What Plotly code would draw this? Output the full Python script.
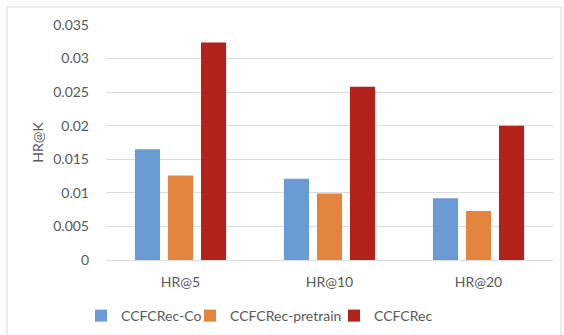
import plotly.graph_objects as go

# Hit-rate comparison of the three model variants
categories = ["HR@5", "HR@10", "HR@20"]
series_names = ["CCFCRec-Co", "CCFCRec-pretrain", "CCFCRec"]
hr_co = [0.0165, 0.0121, 0.0092]
hr_pretrain = [0.0126, 0.0099, 0.0073]
hr_full = [0.0324, 0.0258, 0.0200]
y_ticks = [0, 0.005, 0.01, 0.015, 0.02, 0.025, 0.03, 0.035]
y_tick_labels = ["0", "0.005", "0.01", "0.015", "0.02", "0.025", "0.03", "0.035"]

colors = ["#6a9bd4", "#e3843f", "#b3221a"]
font_family = "Lato, 'Open Sans', sans-serif"
text_color = "#595959"
grid_color = "#dcdcdc"

W, H = 564, 335
ml, mr, mt, mb = 106, 11, 25, 75
pw, ph = W - ml - mr, H - mt - mb

def px_x(x):
    return (x - ml) / pw

def px_y(y):
    return (H - mb - y) / ph

# one legend box per series so each entry sits at its own spot
legend_ids = ["legend", "legend2", "legend3"]
legend_text_x = [123, 232, 376]

fig = go.Figure()
for name, vals, col, lid in zip(series_names, [hr_co, hr_pretrain, hr_full], colors, legend_ids):
    fig.add_trace(go.Bar(x=categories, y=vals, name=name, legend=lid,
                         marker=dict(color=col, line=dict(width=0))))

legend_style = dict(orientation="h", xanchor="left", yanchor="top", y=px_y(300),
                    font=dict(size=14, color=text_color), bgcolor="rgba(0,0,0,0)",
                    itemwidth=30)
legends = {lid: dict(legend_style, x=px_x(tx - 42)) for lid, tx in zip(legend_ids, legend_text_x)}

border = dict(type="line", xref="paper", yref="paper", line=dict(color="#d9d9d9", width=1))
shapes = [
    dict(border, x0=px_x(7), x1=px_x(7), y0=px_y(7), y1=px_y(340)),
    dict(border, x0=px_x(7), x1=px_x(561), y0=px_y(7), y1=px_y(7)),
    dict(border, x0=px_x(561), x1=px_x(561), y0=px_y(7), y1=px_y(340)),
]

fig.update_layout(
    width=W, height=H,
    margin=dict(l=ml, r=mr, t=mt, b=mb, autoexpand=False),
    paper_bgcolor="white", plot_bgcolor="white",
    barmode="group", bargap=0.335, bargroupgap=0.24,
    font=dict(family=font_family, size=14, color=text_color),
    showlegend=True,
    shapes=shapes,
    **legends,
)
fig.update_xaxes(showline=False, showgrid=False, zeroline=False, ticks="",
                 ticklabelstandoff=12, tickfont=dict(size=14, color=text_color))
fig.update_yaxes(range=[0, 0.035], tickvals=y_ticks, ticktext=y_tick_labels,
                 showgrid=True, gridcolor=grid_color, gridwidth=1,
                 zeroline=True, zerolinecolor=grid_color, zerolinewidth=1,
                 showline=False, ticks="", ticklabelstandoff=16,
                 tickfont=dict(size=14, color=text_color),
                 title=dict(text="HR@K", standoff=6, font=dict(size=14, color=text_color)))

fig.write_html("out.html")
